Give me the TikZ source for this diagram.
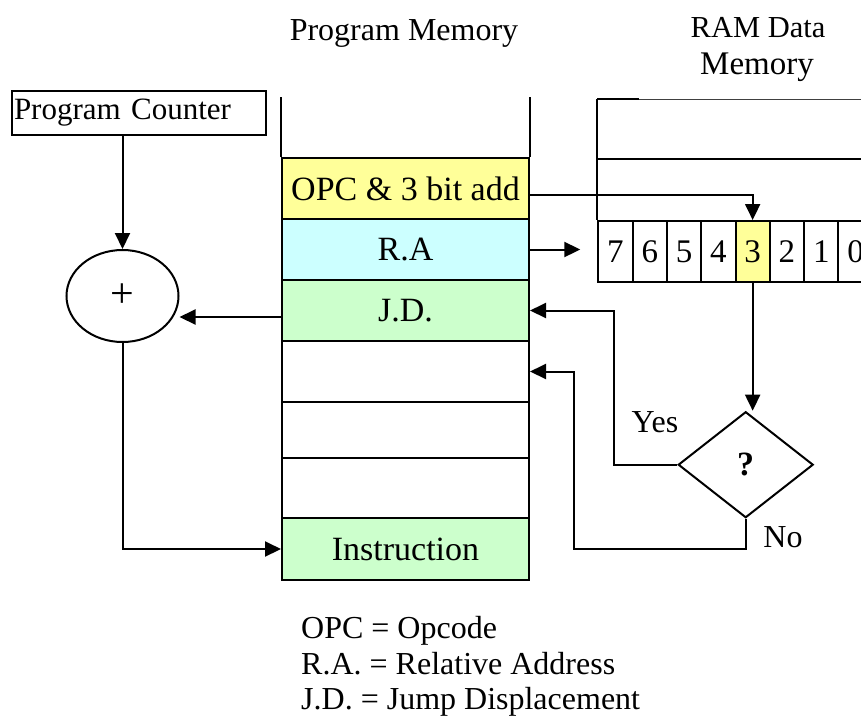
\documentclass[tikz,border=0pt]{standalone}
\usepackage{fontspec}
\setmainfont{Liberation Serif}
\usetikzlibrary{shapes.geometric,arrows.meta}

\definecolor{opcyellow}{HTML}{FFFF99}
\definecolor{racyan}{HTML}{CCFFFF}
\definecolor{jdgreen}{HTML}{CCFFCC}

\tikzset{
  txt/.style={font=\fontsize{32}{36}\selectfont},
  rowtxt/.style={font=\fontsize{34}{38}\selectfont},
  memrow/.style={draw, line width=2pt, minimum width=247pt, inner sep=0pt,
                 anchor=north west, rowtxt},
  bitcell/.style={draw, line width=2pt, minimum width=34.3pt, minimum height=61pt,
                  inner sep=0pt, anchor=north west, font=\fontsize{33}{36}\selectfont},
  wire/.style={line width=2pt},
  arr/.style={line width=2pt, -{Triangle[length=16pt,width=15pt]}},
}

\begin{document}
\begin{tikzpicture}[x=1pt,y=-1pt]
  \useasboundingbox (0,0) rectangle (861,716);
  \clip (0,0) rectangle (861,716);

  % headings
  \node[txt] (pmtitle) at (404,33) {Program Memory};
  \node[font=\fontsize{30.5}{33}\selectfont] (ramtitle1) at (758,28) {RAM Data};
  \node[font=\fontsize{33}{36}\selectfont] (ramtitle2) at (757,67) {Memory};

  % program counter
  \node[draw, line width=2pt, minimum height=44pt, text width=250pt,
        inner xsep=2pt, inner ysep=0pt, align=left, anchor=north west,
        font=\fontsize{31}{34}\selectfont]
        (pc) at (11,90) {Program Counter};

  % adder
  \node[draw, ellipse, line width=2pt, minimum width=112pt, minimum height=92pt,
        inner sep=0pt, font=\fontsize{42}{44}\selectfont] (adder) at (122.5,296)
        {\raisebox{-3pt}{+}};

  % program memory column
  \node[memrow, fill=opcyellow, minimum height=61pt] (opc) at (281,157) {OPC \& 3 bit add};
  \node[memrow, fill=racyan,    minimum height=61pt] (ra)  at (281,218) {R.A};
  \node[memrow, fill=jdgreen,   minimum height=61pt] (jd)  at (281,279) {J.D.};
  \node[memrow,                 minimum height=61pt] (e1)  at (281,340) {};
  \node[memrow,                 minimum height=56pt] (e2)  at (281,401) {};
  \node[memrow,                 minimum height=60pt] (e3)  at (281,457) {};
  \node[memrow, fill=jdgreen,   minimum height=62pt] (ins) at (281,517) {Instruction};
  \draw[wire] (opc.north west) -- ++(0,-60);
  \draw[wire] (opc.north east) -- ++(0,-60);

  % RAM data memory
  \coordinate (ramtl) at (597,99);
  \draw[wire] (ramtl) -- ++(42,0);
  \draw[line width=1pt, black!75] (639,99) -- (861,99);
  \draw[wire] (ramtl) -- (597,220);
  \draw[wire] (597,159) -- (861,159);
  % highlighted bit 3
  \fill[opcyellow] (734.5,220) rectangle (768.8,281);
  \foreach \b [count=\i from 0] in {7,6,5,4,3,2,1,0}{
    \node[bitcell] (c\b) at (597.3+\i*34.3,220) {\b};
  }

  % decision
  \node[draw, diamond, aspect=1.27, line width=2pt, minimum width=135pt,
        minimum height=106pt, inner sep=0pt] (q) at (745.7,464.7)
        {\raisebox{-3pt}{\fontsize{34}{36}\selectfont\bfseries ?}};
  \node[txt] (yes) at (655,422) {Yes};
  \node[txt] (no) at (783,537) {No};

  \coordinate (yesbend) at (614,0);
  \coordinate (nobend) at (574,0);

  % connectors
  \draw[arr] (adder.north |- pc.south) -- (adder.north);
  \draw[arr] ([yshift=-6.5pt]jd.west) -- ([yshift=-6.5pt]jd.west -| adder.east);
  \draw[arr] (adder.south) |- (ins.west);
  \draw[arr] ([yshift=-6pt]opc.east) -| (c3.north);
  \draw[arr] (ra.east) -- ([xshift=-17pt]c7.west |- ra.east);
  \draw[arr] (c3.south) -- (c3.south |- q.north);
  \draw[arr] (q.west) -| (yesbend |- jd.east) -- (jd.east);
  \draw[arr] (q.south) -- ++(0,30) -| (nobend |- e1.east) -- (e1.east);

  % legend
  \node[txt, inner sep=0pt, anchor=base west] (l1) at (301,638) {OPC = Opcode};
  \node[txt, inner sep=0pt, anchor=base west] (l2) at (301,674) {R.A. = Relative Address};
  \node[txt, inner sep=0pt, anchor=base west] (l3) at (301,709) {J.D. = Jump Displacement};
\end{tikzpicture}
\end{document}
